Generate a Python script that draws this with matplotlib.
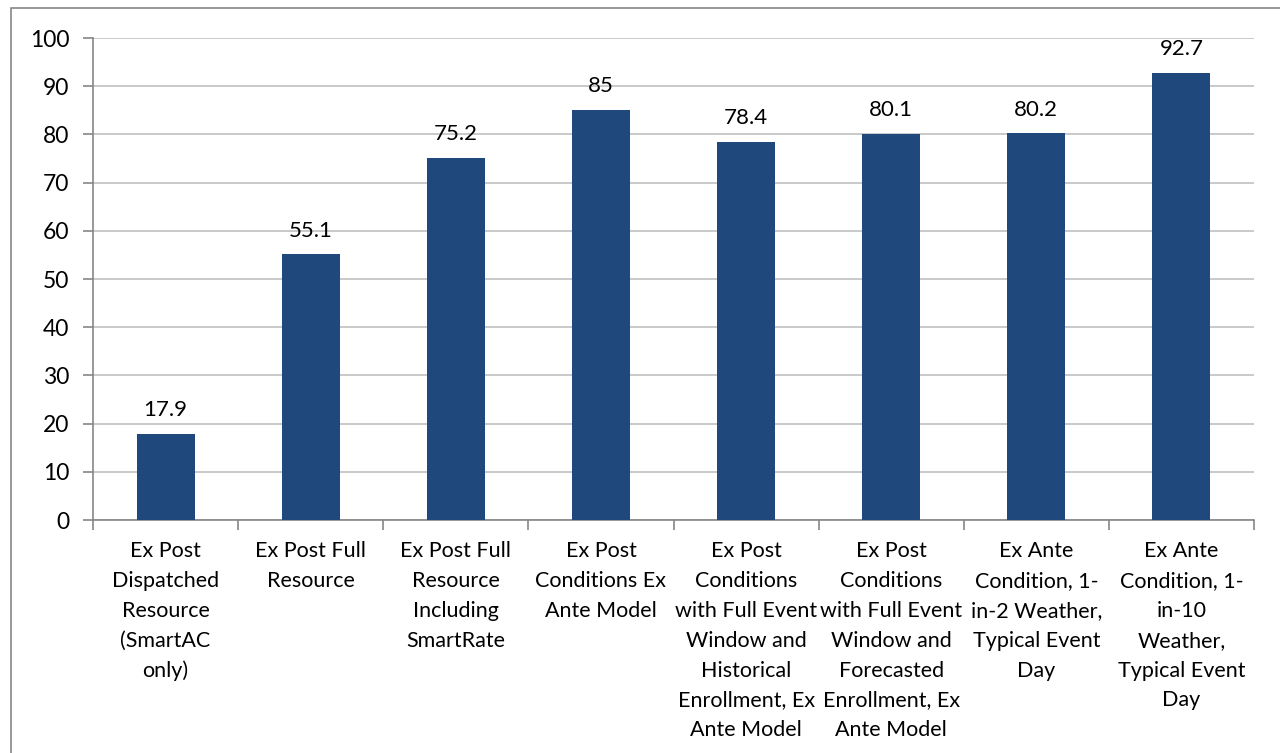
import matplotlib
matplotlib.use("Agg")
import matplotlib.pyplot as plt
from matplotlib.patches import Rectangle
import numpy as np

plt.rcParams['font.family'] = ['Lato', 'DejaVu Sans']

# scenario labels, wrapped as they appear under each bar
categories = [
    "Ex Post\nDispatched\nResource\n(SmartAC\nonly)",
    "Ex Post Full\nResource",
    "Ex Post Full\nResource\nIncluding\nSmartRate",
    "Ex Post\nConditions Ex\nAnte Model",
    "Ex Post\nConditions\nwith Full Event\nWindow and\nHistorical\nEnrollment, Ex\nAnte Model",
    "Ex Post\nConditions\nwith Full Event\nWindow and\nForecasted\nEnrollment, Ex\nAnte Model",
    "Ex Ante\nCondition, 1-\nin-2 Weather,\nTypical Event\nDay",
    "Ex Ante\nCondition, 1-\nin-10\nWeather,\nTypical Event\nDay",
]
values = [17.9, 55.1, 75.2, 85, 78.4, 80.1, 80.2, 92.7]
value_labels = ["17.9", "55.1", "75.2", "85", "78.4", "80.1", "80.2", "92.7"]
yticks = [0, 10, 20, 30, 40, 50, 60, 70, 80, 90, 100]

bar_color = "#1F497D"
axis_gray = "#868686"
grid_gray = "#C0C0C0"

fig = plt.figure(figsize=(12.8, 7.53), dpi=100)
ax = fig.add_axes([0.0727, 0.3094, 0.9070, 0.6401])

# chart frame around everything
fig.patches.append(Rectangle((11 / 1280, -0.01), 1.0, 1 - 8 / 753 + 0.01,
                             transform=fig.transFigure, fill=False,
                             edgecolor=axis_gray, linewidth=1.2))

x = np.arange(len(values))
ax.bar(x, values, width=0.4, color=bar_color, zorder=3)

for xi, v, lab in zip(x, values, value_labels):
    ax.annotate(lab, (xi, v), xytext=(0, 10), textcoords="offset points",
                ha="center", va="bottom", fontsize=16, color="black")

ax.set_xlim(-0.5, len(values) - 0.5)
ax.set_ylim(0, 100)
ax.set_yticks(yticks)
ax.set_yticklabels([str(t) for t in yticks], fontsize=16.5)
ax.yaxis.grid(True, color=grid_gray, linewidth=1.2, zorder=0)

# ticks between categories, labels centred under bars
ax.set_xticks(np.arange(-0.5, len(values), 1.0))
ax.set_xticklabels([])
ax.set_xticks(x, minor=True)
ax.set_xticklabels(categories, minor=True, fontsize=15.5, linespacing=1.62,
                   va="top", ha="center")
ax.tick_params(axis="x", which="major", length=7, color=axis_gray, width=1.2)
ax.tick_params(axis="x", which="minor", length=0, pad=15)
ax.tick_params(axis="y", length=7, color=axis_gray, width=1.2, pad=10)

for side in ["top", "right"]:
    ax.spines[side].set_visible(False)
for side in ["left", "bottom"]:
    ax.spines[side].set_color(axis_gray)
    ax.spines[side].set_linewidth(1.2)

fig.savefig("out.png", dpi=100)
